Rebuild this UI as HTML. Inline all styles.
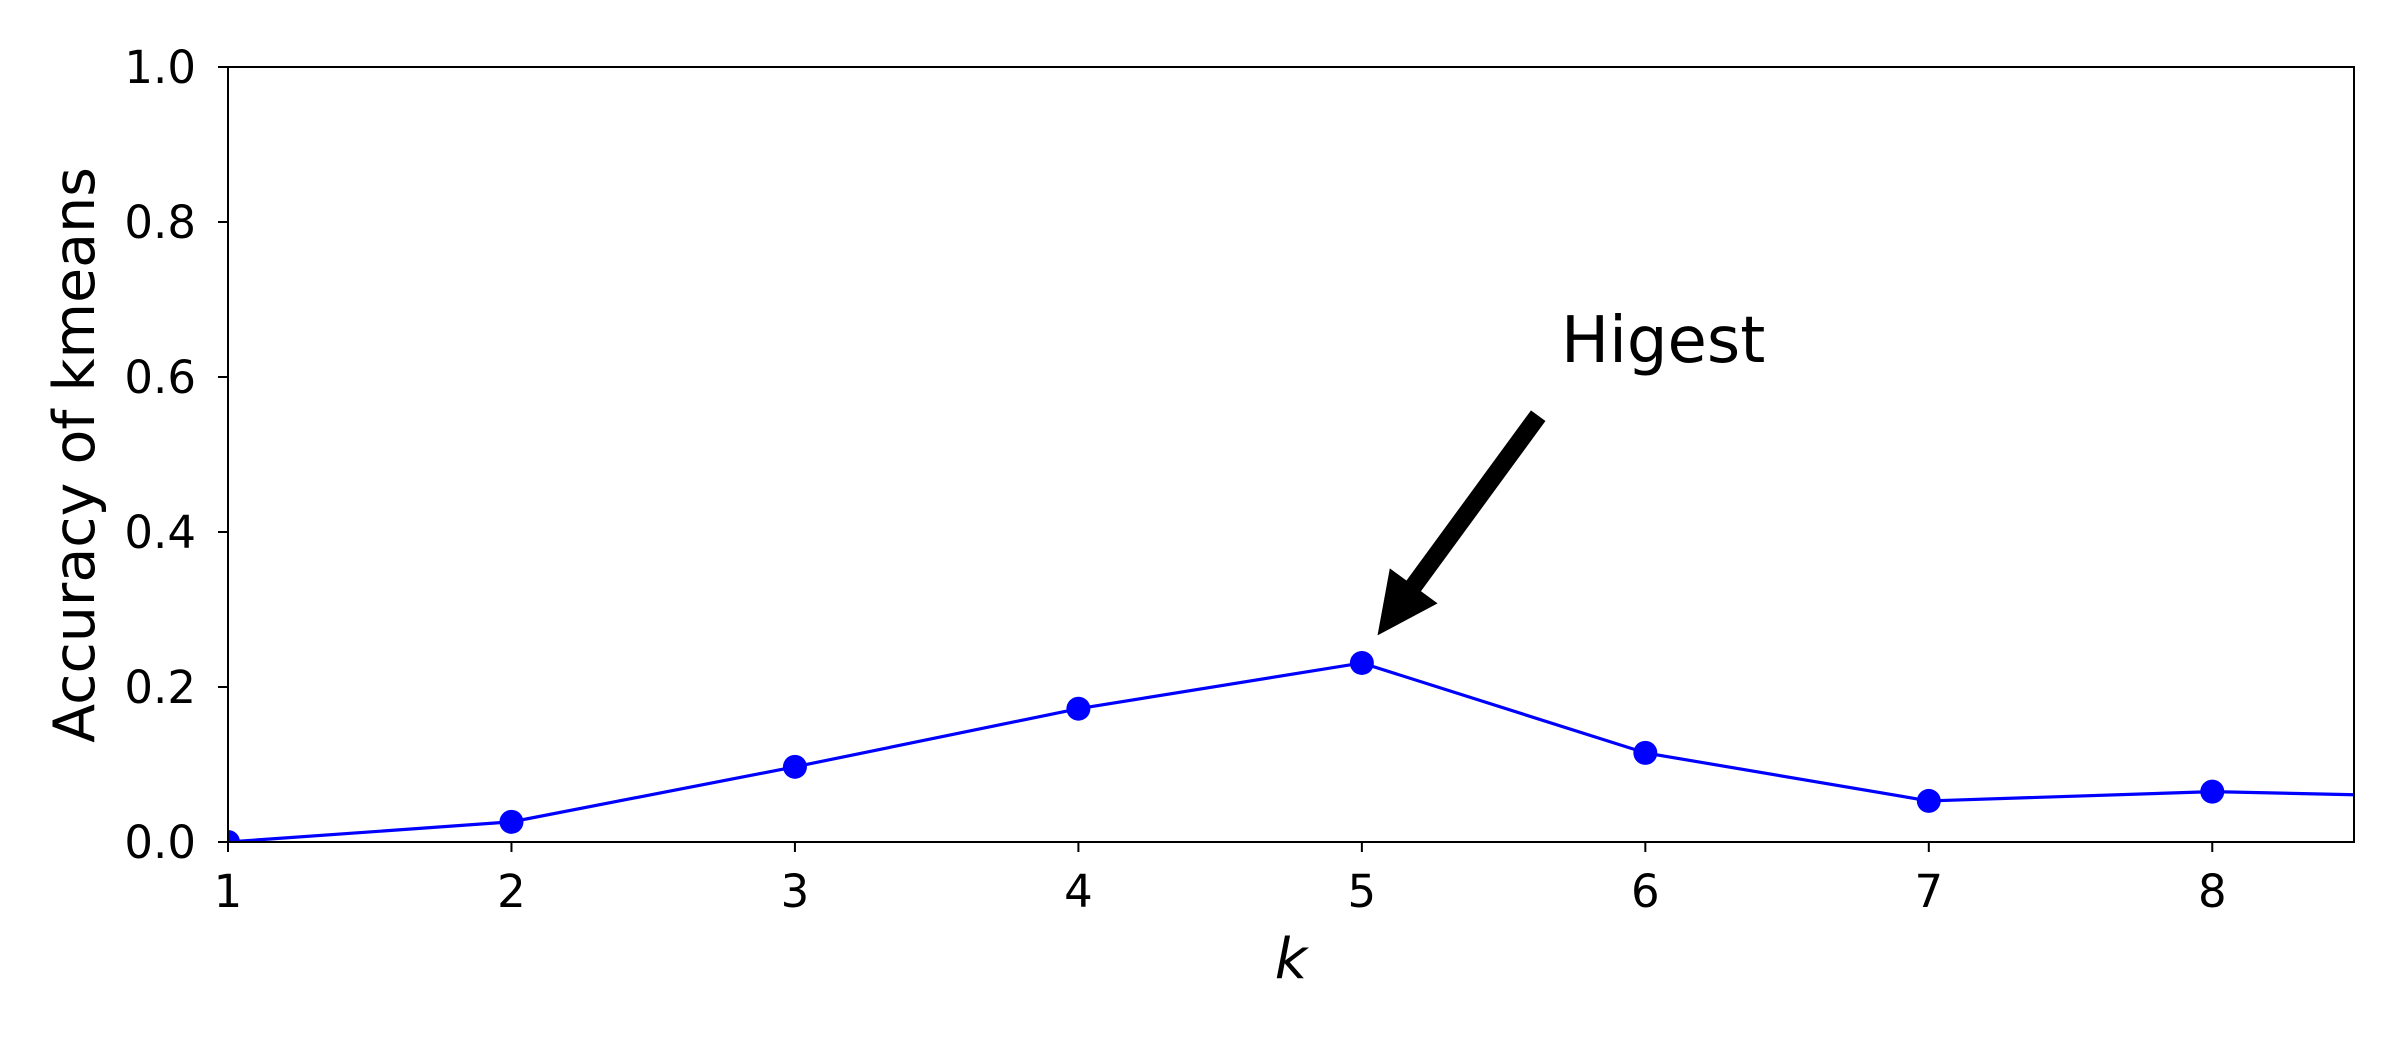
<!DOCTYPE html>
<html><head><meta charset="utf-8"><style>
html,body{margin:0;padding:0;background:#fff;}
svg{display:block;font-family:"DejaVu Sans","Liberation Sans",sans-serif;}
</style></head><body>
<svg id="chart" width="2400" height="1050" viewBox="0 0 2400 1050" xmlns="http://www.w3.org/2000/svg">
<rect width="2400" height="1050" fill="#fff"/>
<defs><clipPath id="plotclip"><rect x="228" y="67" width="2126" height="775"/></clipPath></defs>
<g id="series" clip-path="url(#plotclip)"></g>
<rect x="228" y="67" width="2126" height="775" fill="none" stroke="#000" stroke-width="2"/>
<g id="axes"></g>
<text x="1291" y="978" font-size="56" font-style="italic" text-anchor="middle">k</text>
<text transform="translate(94,455) rotate(-90)" font-size="57" text-anchor="middle">Accuracy of kmeans</text>
<g id="annot"></g>
</svg>
<script>
const kValues = [1, 2, 3, 4, 5, 6, 7, 8, 9];
const accuracy = [0.0, 0.026, 0.097, 0.172, 0.231, 0.115, 0.053, 0.065, 0.057];
const xTicks = [1, 2, 3, 4, 5, 6, 7, 8];
const yTicks = [0.0, 0.2, 0.4, 0.6, 0.8, 1.0];
const yTickLabels = ["0.0", "0.2", "0.4", "0.6", "0.8", "1.0"];
const annotText = "Higest";
const annotTail = [5.62, 0.549];
const annotHead = [5.06, 0.269];

const L = 228, R = 2354, T = 67, B = 842;
const xMin = 1, xMax = 8.5, yMin = 0, yMax = 1;
const sx = v => L + (v - xMin) / (xMax - xMin) * (R - L);
const sy = v => B - (v - yMin) / (yMax - yMin) * (B - T);
const NS = "http://www.w3.org/2000/svg";
function mk(tag, attrs, parent) {
  const e = document.createElementNS(NS, tag);
  for (const k in attrs) e.setAttribute(k, attrs[k]);
  parent.appendChild(e);
  return e;
}
const axes = document.getElementById('axes');
xTicks.forEach(t => {
  const l = mk('line', {x1: sx(t), x2: sx(t), y1: B, y2: B + 10, stroke: '#000', 'stroke-width': 2}, axes);
  
  
  const tx = mk('text', {x: sx(t), y: B + 65, 'font-size': 45, 'text-anchor': 'middle'}, axes);
  tx.textContent = String(t);
  
  
});
yTicks.forEach((t, i) => {
  const l = mk('line', {x1: L - 10, x2: L, y1: sy(t), y2: sy(t), stroke: '#000', 'stroke-width': 2}, axes);
  
  
  const tx = mk('text', {x: L - 32, y: sy(t) + 16, 'font-size': 45, 'text-anchor': 'end'}, axes);
  tx.textContent = yTickLabels[i];
  
  
});
const series = document.getElementById('series');
const pts = kValues.map((k, i) => sx(k) + ',' + sy(accuracy[i])).join(' ');
const pl = mk('polyline', {points: pts, fill: 'none', stroke: '#0000ff', 'stroke-width': 3.2}, series);


kValues.forEach((k, i) => {
  const c = mk('circle', {cx: sx(k), cy: sy(accuracy[i]), r: 12, fill: '#0000ff'}, series);
  
  
});
const annot = document.getElementById('annot');
const tx = mk('text', {x: 1561, y: 362, 'font-size': 64}, annot);
tx.textContent = annotText;


const x0 = sx(annotTail[0]), y0 = sy(annotTail[1]), x1 = sx(annotHead[0]), y1 = sy(annotHead[1]);
const dx = x1 - x0, dy = y1 - y0, len = Math.hypot(dx, dy);
const ux = dx / len, uy = dy / len, px = -uy, py = ux;
const hw = 8, headL = 58, headW = 28;
const bx = x1 - ux * headL, by = y1 - uy * headL;
const poly = [
  [x0 + px * hw, y0 + py * hw], [bx + px * hw, by + py * hw], [bx + px * headW, by + py * headW],
  [x1, y1], [bx - px * headW, by - py * headW], [bx - px * hw, by - py * hw], [x0 - px * hw, y0 - py * hw]
].map(p => p.join(',')).join(' ');
const ar = mk('polygon', {points: poly, fill: '#000', stroke: '#000', 'stroke-width': 2, 'stroke-linejoin': 'miter'}, annot);


</script>
</body></html>
